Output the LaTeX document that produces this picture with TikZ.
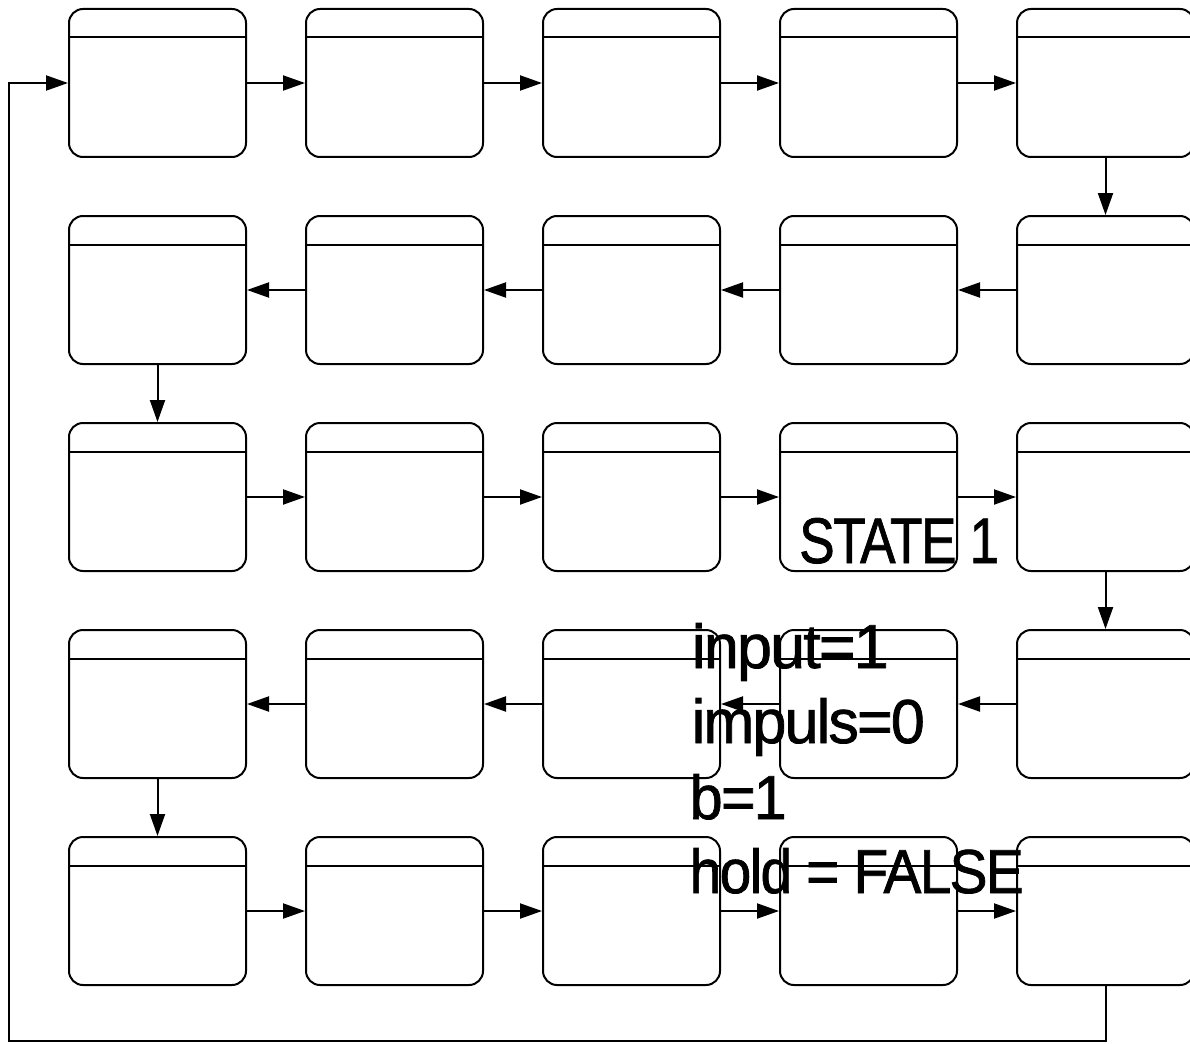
\documentclass[tikz,border=0pt]{standalone}
\usepackage{fontspec}
\setmainfont{Liberation Sans}
\usetikzlibrary{arrows.meta}
\newcommand\fitline[2]{\resizebox{#1pt}{45pt}{\addfontfeature{LetterSpace=-3,FakeBold=1.2}#2}}
\begin{document}
\begin{tikzpicture}[x=1pt,y=-1pt,
  box/.style={draw, line width=2pt, rounded corners=14pt, minimum width=177pt,
    minimum height=148pt, inner sep=0pt, anchor=north west},
  hdr/.style={line width=2pt},
  conn/.style={line width=2pt, line join=miter, -{Triangle[length=22pt,width=15pt]}},
  txt/.style={anchor=base west, inner sep=0pt, text=black}]
\useasboundingbox (0,0) rectangle (1190,1043);
\clip (0,0) rectangle (1190,1043);
\foreach \r in {1,...,5}{
  \foreach \c in {1,...,5}{
    \node[box] (b\r\c) at ({68+237*(\c-1)},{8+207*(\r-1)}) {};
    \draw[hdr] ([yshift=-29.5pt]b\r\c.north west) -- ([yshift=-29.5pt]b\r\c.north east);
  }
}
% row 1, 3, 5: left to right
\foreach \r in {1,3,5}{
  \draw[conn] (b\r1.east) -- (b\r2.west);
  \draw[conn] (b\r2.east) -- (b\r3.west);
  \draw[conn] (b\r3.east) -- (b\r4.west);
  \draw[conn] (b\r4.east) -- (b\r5.west);
}
% row 2, 4: right to left
\foreach \r in {2,4}{
  \draw[conn] (b\r5.west) -- (b\r4.east);
  \draw[conn] (b\r4.west) -- (b\r3.east);
  \draw[conn] (b\r3.west) -- (b\r2.east);
  \draw[conn] (b\r2.west) -- (b\r1.east);
}
\draw[conn] (b15.south) -- (b25.north);
\draw[conn] (b21.south) -- (b31.north);
\draw[conn] (b35.south) -- (b45.north);
\draw[conn] (b41.south) -- (b51.north);
\coordinate (lb) at (9,1041);
\draw[conn] (b55.south) |- (lb) |- (b11.west);
% texts
\node[txt] (t0) at (799,563) {\fitline{200}{STATE 1}};
\node[txt] (t1) at (691.5,668) {\fitline{197}{input=1}};
\node[txt] (t2) at (691.5,743) {\fitline{233}{impuls=0}};
\node[txt] (t3) at (689.5,819) {\fitline{97}{b=1}};
\node[txt] (t4) at (689.5,893) {\fitline{334}{hold = FALSE}};
\end{tikzpicture}
\end{document}
